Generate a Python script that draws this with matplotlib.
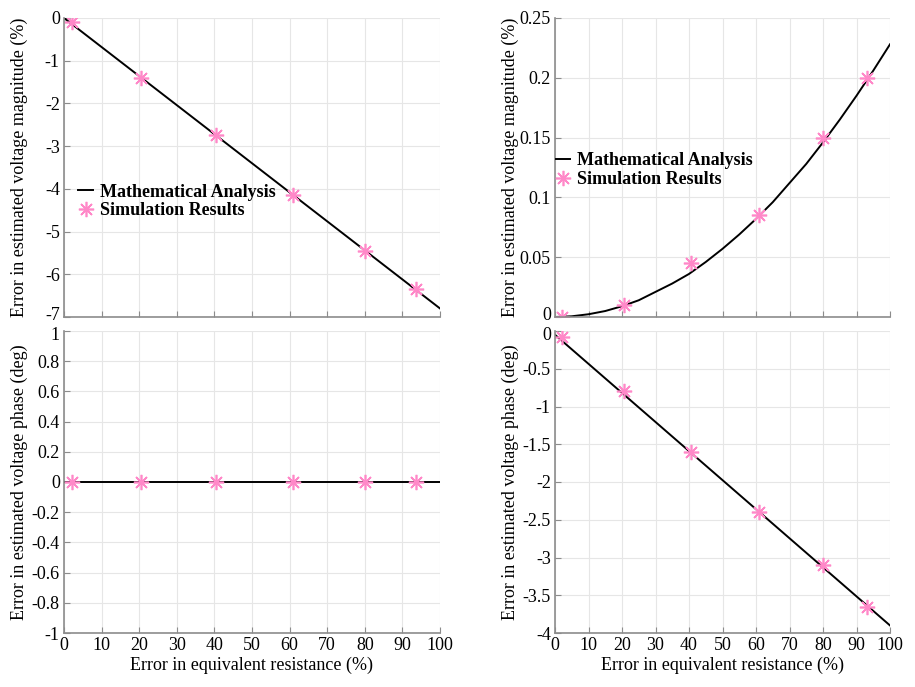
import numpy as np
import matplotlib.pyplot as plt
from matplotlib.transforms import ScaledTranslation

plt.rcParams['font.family'] = ['Liberation Serif', 'DejaVu Serif']

# simulation points (x = error in equivalent resistance %)
sim_x = [2, 20.5, 40.5, 61, 80, 93.5]
sim_mag_lin = [-0.1, -1.4, -2.75, -4.15, -5.45, -6.35]
sim_mag_quad = [0.0, 0.01, 0.045, 0.085, 0.15, 0.2]
sim_ph_zero = [0, 0, 0, 0, 0, 0]
sim_ph_lin = [-0.08, -0.8, -1.6, -2.4, -3.1, -3.65]

# mathematical analysis curves
ana_x = [0, 100]
ana_mag_lin = [0, -6.8]
ana_ph_zero = [0, 0]
ana_ph_lin = [-0.05, -3.9]
ana_x_curve = [0, 5, 10, 15, 20, 25, 30, 35, 40, 45, 50, 55, 60, 65, 70, 75, 80, 85, 90, 95, 100]
ana_mag_curve = [0, 0.0006, 0.0023, 0.005, 0.009, 0.014, 0.021, 0.028, 0.036, 0.046, 0.057,
                 0.069, 0.082, 0.096, 0.112, 0.128, 0.146, 0.165, 0.185, 0.206, 0.228]

pink = '#ff88c8'
fs = 13

fig = plt.figure(figsize=(9.15, 6.87), dpi=100)
W, H = 915, 687
def box(x0, y0, x1, y1):
    return [x0 / W, 1 - y1 / H, (x1 - x0) / W, (y1 - y0) / H]

ax1 = fig.add_axes(box(64, 18, 440, 317))
ax2 = fig.add_axes(box(555, 18, 890, 317))
ax3 = fig.add_axes(box(64, 331, 440, 633))
ax4 = fig.add_axes(box(555, 331, 890, 633))

def style(ax, ylim, yticks, yticklabels, ylabel, xlab, ylx):
    ax.set_xlim(0, 100)
    ax.set_ylim(*ylim)
    ax.set_xticks(range(0, 101, 10))
    ax.set_yticks(yticks)
    ax.set_yticklabels(yticklabels)
    ax.grid(True, color='#e6e6e6', lw=0.8)
    ax.set_axisbelow(True)
    for s in ['top', 'right']:
        ax.spines[s].set_visible(False)
    for s in ['left', 'bottom']:
        ax.spines[s].set_color('#8c8c8c')
        ax.spines[s].set_linewidth(1.2)
    ax.tick_params(direction='in', length=4, color='#8c8c8c', labelsize=fs, pad=3)
    ax.set_ylabel(ylabel, fontsize=fs)
    ax.yaxis.set_label_coords(ylx, 0.5)
    if xlab:
        ax.set_xticklabels([str(v) for v in range(0, 101, 10)])
        ax.set_xlabel('Error in equivalent resistance (%)', fontsize=fs, labelpad=2)
    else:
        ax.set_xticklabels([])

mk = dict(marker=(8, 2, 0), ls='none', color=pink, ms=11, mew=1.2)
leg = dict(frameon=False, prop={'weight': 'bold', 'size': fs}, handlelength=0.8,
           handletextpad=0.4, labelspacing=0.1, borderaxespad=0)

ax1.plot(ana_x, ana_mag_lin, color='k', lw=1.4, label='Mathematical Analysis')
ax1.plot(sim_x, sim_mag_lin, label='Simulation Results', **mk)
style(ax1, (-7, 0), range(-7, 1), ['-7', '-6', '-5', '-4', '-3', '-2', '-1', '0'],
      'Error in estimated voltage magnitude (%)', False, -0.096)
ax1.legend(loc='upper left', bbox_to_anchor=(0.019, 0.47), **leg)

ax2.plot(ana_x_curve, ana_mag_curve, color='k', lw=1.4, label='Mathematical Analysis')
ax2.plot(sim_x[:5] + [93], sim_mag_quad, label='Simulation Results', **mk)
style(ax2, (0, 0.25), [0, 0.05, 0.1, 0.15, 0.2, 0.25], ['0', '0.05', '0.1', '0.15', '0.2', '0.25'],
      'Error in estimated voltage magnitude (%)', False, -0.107)
ax2.legend(loc='upper left', bbox_to_anchor=(-0.02, 0.575), **leg)

ax3.plot(ana_x, ana_ph_zero, color='k', lw=1.4)
ax3.plot(sim_x, sim_ph_zero, **mk)
style(ax3, (-1, 1), [-1, -0.8, -0.6, -0.4, -0.2, 0, 0.2, 0.4, 0.6, 0.8, 1],
      ['-1', '-0.8', '-0.6', '-0.4', '-0.2', '0', '0.2', '0.4', '0.6', '0.8', '1'],
      'Error in estimated voltage phase (deg)', True, -0.096)

ax4.plot(ana_x, ana_ph_lin, color='k', lw=1.4)
ax4.plot(sim_x[:5] + [93], sim_ph_lin, **mk)
style(ax4, (-4, 0), [-4, -3.5, -3, -2.5, -2, -1.5, -1, -0.5, 0],
      ['-4', '-3.5', '-3', '-2.5', '-2', '-1.5', '-1', '-0.5', '0'],
      'Error in estimated voltage phase (deg)', True, -0.107)

# nudge the touching labels at the junction between upper and lower plots apart
for ax, dy in ((ax1, 3), (ax2, 3), (ax3, -3), (ax4, -3)):
    lab = ax.yaxis.get_majorticklabels()[0 if dy > 0 else -1]
    lab.set_transform(lab.get_transform() + ScaledTranslation(0, dy / 100, fig.dpi_scale_trans))

fig.savefig('out.png', dpi=100)
